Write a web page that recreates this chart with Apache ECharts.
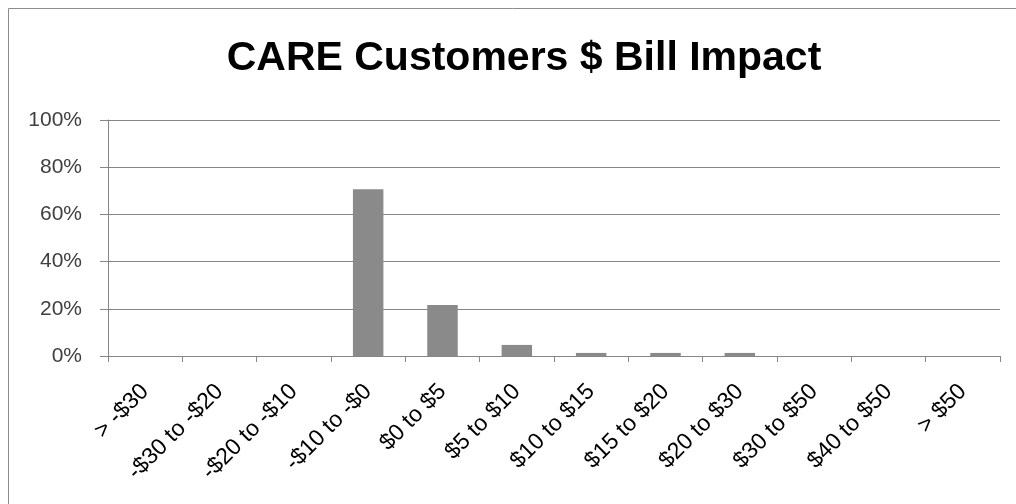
<!DOCTYPE html>
<html>
<head>
<meta charset="utf-8">
<script src="https://cdn.jsdelivr.net/npm/echarts@6/dist/echarts.min.js"></script>
<style>
  html, body { margin: 0; padding: 0; background: #ffffff; }
  #chart { width: 1016px; height: 504px; }
</style>
</head>
<body>
<div id="chart"></div>
<script>
// Bill impact buckets and the share of CARE customers in each
const categories = ['> -$30', '-$30 to -$20', '-$20 to -$10', '-$10 to -$0', '$0 to $5', '$5 to $10',
                    '$10 to $15', '$15 to $20', '$20 to $30', '$30 to $50', '$40 to $50', '> $50'];
const shares = [0, 0, 0, 70.7, 21.6, 4.7, 1.3, 1.3, 1.3, 0, 0, 0];
const yTicks = { min: 0, max: 100, interval: 20 };
const titleText = 'CARE Customers $ Bill Impact';

const chart = echarts.init(document.getElementById('chart'), null, { renderer: 'canvas' });

chart.setOption({
  backgroundColor: '#ffffff',
  animation: false,
  title: {
    text: titleText,
    left: 519,
    textAlign: 'center',
    top: 33,
    textStyle: {
      fontFamily: "'Liberation Sans', sans-serif",
      fontWeight: 'bold',
      fontSize: 41,
      color: '#000000'
    }
  },
  graphic: [{
    type: 'rect',
    shape: { x: 8.5, y: 8.5, width: 1100, height: 600 },
    style: { fill: 'none', stroke: '#8c8c8c', lineWidth: 1 },
    silent: true
  }],
  grid: { left: 108, right: 16, top: 120, bottom: 148 },
  xAxis: {
    type: 'category',
    data: categories,
    boundaryGap: true,
    axisLine: { lineStyle: { color: '#868686', width: 1 } },
    axisTick: { show: true, alignWithLabel: false, length: 6, lineStyle: { color: '#868686' } },
    axisLabel: {
      interval: 0,
      rotate: 45,
      margin: 32,
      fontFamily: "'Liberation Sans', sans-serif",
      fontSize: 23,
      color: '#000000'
    }
  },
  yAxis: {
    type: 'value',
    min: yTicks.min,
    max: yTicks.max,
    interval: yTicks.interval,
    axisLine: { show: true, lineStyle: { color: '#868686', width: 1 } },
    axisTick: { show: true, length: 8, lineStyle: { color: '#868686' } },
    splitLine: { show: true, lineStyle: { color: '#868686', width: 1 } },
    axisLabel: {
      formatter: '{value}%',
      margin: 26,
      fontFamily: "'Liberation Sans', sans-serif",
      fontSize: 21,
      color: '#404040'
    }
  },
  series: [{
    type: 'bar',
    data: shares,
    barCategoryGap: '59%',
    itemStyle: { color: '#8a8a8a' }
  }]
});
</script>
</body>
</html>
